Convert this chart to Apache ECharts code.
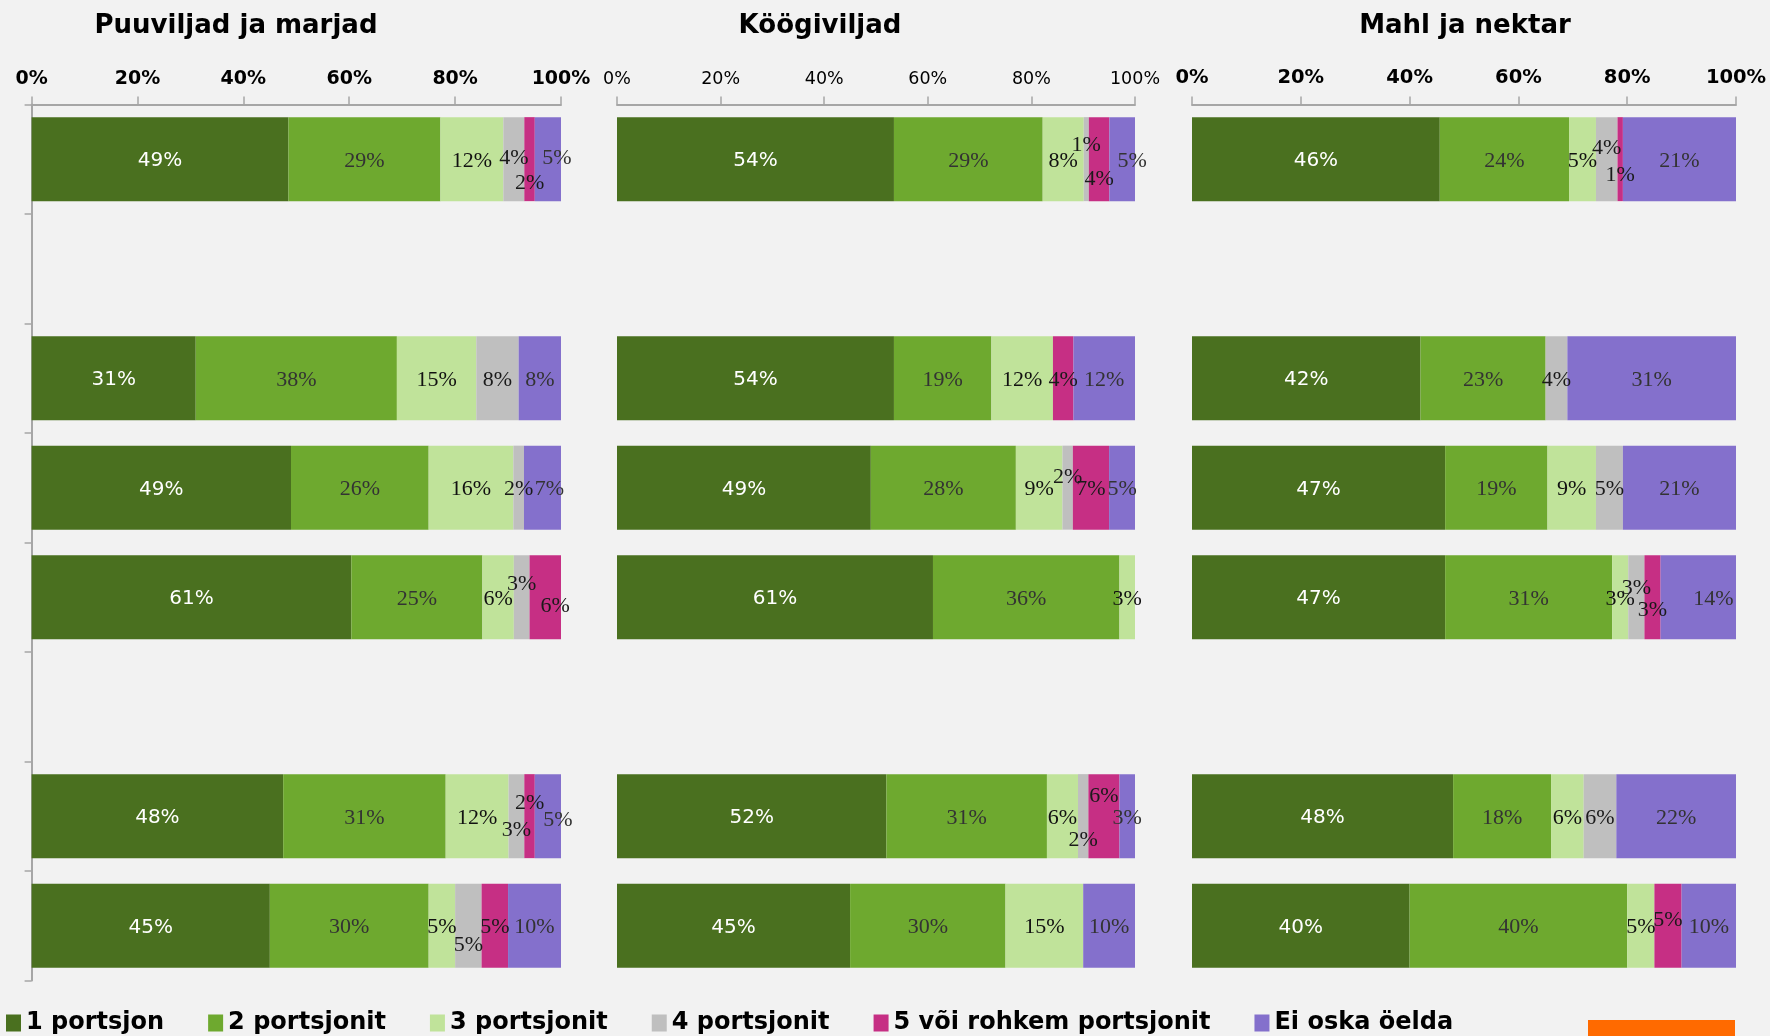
<!DOCTYPE html>
<html>
<head>
<meta charset="utf-8">
<script src="https://cdn.jsdelivr.net/npm/echarts@6/dist/echarts.min.js"></script>
<style>
  html, body { margin: 0; padding: 0; background: #F2F2F2; }
  #chart { width: 1770px; height: 1036px; }
</style>
</head>
<body>
<div id="chart"></div>
<script>
// ---- data ----
const categories = ['r1', 'r2', 'r3', 'r4', 'r5', 'r6', 'r7', 'r8'];
const seriesNames = ['1 portsjon', '2 portsjonit', '3 portsjonit', '4 portsjonit', '5 või rohkem portsjonit', 'Ei oska öelda'];
const panelTitles = ['Puuviljad ja marjad', 'Köögiviljad', 'Mahl ja nektar'];
const xTicks = [0, 20, 40, 60, 80, 100];

// one row per category slot (null = empty slot); values per series in order of seriesNames
const puuviljad = [[49, 29, 12, 4, 2, 5], null, [31, 38, 15, 8, 0, 8], [49, 26, 16, 2, 0, 7], [61, 25, 6, 3, 6, 0], null, [48, 31, 12, 3, 2, 5], [45, 30, 5, 5, 5, 10]];
const koogiviljad = [[54, 29, 8, 1, 4, 5], null, [54, 19, 12, 0, 4, 12], [49, 28, 9, 2, 7, 5], [61, 36, 3, 0, 0, 0], null, [52, 31, 6, 2, 6, 3], [45, 30, 15, 0, 0, 10]];
const mahl = [[46, 24, 5, 4, 1, 21], null, [42, 23, 0, 4, 0, 31], [47, 19, 9, 5, 0, 21], [47, 31, 3, 3, 3, 14], null, [48, 18, 6, 6, 0, 22], [40, 40, 5, 0, 5, 10]];

// ---- styling / layout (kept separate from data) ----
const panels = [puuviljad, koogiviljad, mahl];
const colors = ['#4A701F', '#6EA92F', '#C0E39A', '#BFBFBF', '#C62F84', '#8470CC'];
const labelColors = ['#FFFFFF', '#333333', '#111111', '#1a1a1a', '#1a1a1a', '#333333'];
const grids = [
  { left: 31.6, width: 529.4, top: 104.4, height: 876 },
  { left: 617, width: 518, top: 104.4, height: 876 },
  { left: 1192, width: 544, top: 104.4, height: 876 }
];
const titleX = [236, 820, 1465];
const axisLabelStyle = [
  { fontWeight: 'bold', fontSize: 19 },
  { fontWeight: 'normal', fontSize: 17.5 },
  { fontWeight: 'bold', fontSize: 19.5 }
];
// label nudges: "panel-row-series" -> [dx, dy]
const labelNudges = {
  '0-0-3': [0, -3], '0-0-4': [0, 22], '0-0-5': [9, -3],
  '0-3-5': [7, 0],
  '0-4-3': [0, -15], '0-4-4': [10, 7],
  '0-6-3': [0, 12], '0-6-4': [0, -15], '0-6-5': [10, 2],
  '0-7-3': [0, 18],
  '1-0-3': [0, -16], '1-0-4': [0, 18], '1-0-5': [10, 0],
  '1-3-3': [0, -12],
  '1-6-3': [0, 22], '1-6-4': [0, -22],
  '2-0-3': [0, -13], '2-0-4': [0, 14],
  '2-4-3': [0, -11], '2-4-4': [0, 11], '2-4-5': [15, 0],
  '2-7-4': [0, -7]
};
const baseLabelDy = 2;

const FONT = 'DejaVu Sans';
const chart = echarts.init(document.getElementById('chart'), null, { renderer: 'canvas' });

const xAxes = grids.map((g, i) => ({
  type: 'value', gridIndex: i, position: 'top',
  min: xTicks[0], max: xTicks[xTicks.length - 1], interval: xTicks[1] - xTicks[0],
  splitLine: { show: false },
  axisLine: { show: true, lineStyle: { color: '#A6A6A6', width: 2 } },
  axisTick: { show: true, length: 8, lineStyle: { color: '#A6A6A6', width: 1.5 } },
  axisLabel: {
    margin: 16, color: '#000', fontFamily: FONT,
    fontWeight: axisLabelStyle[i].fontWeight, fontSize: axisLabelStyle[i].fontSize,
    formatter: '{value}%'
  }
}));

const yAxes = grids.map((g, i) => ({
  type: 'category', gridIndex: i, inverse: true, data: categories,
  axisLabel: { show: false },
  axisLine: { show: i === 0, lineStyle: { color: '#A6A6A6', width: 2 } },
  axisTick: { show: i === 0, length: 7, lineStyle: { color: '#A6A6A6', width: 1.5 } },
  splitLine: { show: false }
}));

const series = [];
panels.forEach((rows, p) => {
  seriesNames.forEach((name, s) => {
    series.push({
      name: name, type: 'bar', stack: 'panel' + p,
      xAxisIndex: p, yAxisIndex: p,
      barWidth: 84,
      itemStyle: { color: colors[s] },
      emphasis: { disabled: true },
      label: {
        show: true, position: 'inside',
        color: labelColors[s],
        fontFamily: s === 0 ? FONT : '"Liberation Serif"',
        fontSize: s === 0 ? 20 : 22,
        offset: [0, baseLabelDy],
        formatter: (params) => {
          const row = rows[params.dataIndex];
          if (!row || row[s] === 0) return '';
          return row[s] + '%';
        }
      },
      data: rows.map((row, r) => {
        if (!row) return '-';
        const total = row.reduce((a, b) => a + b, 0);
        const item = { value: row[s] / total * 100 };
        const nudge = labelNudges[p + '-' + r + '-' + s];
        if (nudge) item.label = { offset: [nudge[0], nudge[1] + baseLabelDy] };
        return item;
      })
    });
  });
});

const option = {
  backgroundColor: '#F2F2F2',
  animation: false,
  textStyle: { fontFamily: FONT },
  grid: grids.map(g => Object.assign({ containLabel: false }, g)),
  xAxis: xAxes,
  yAxis: yAxes,
  legend: {
    data: seriesNames,
    left: 1, top: 1006,
    icon: 'rect', itemWidth: 15, itemHeight: 17, itemGap: 44,
    textStyle: { fontFamily: FONT, fontWeight: 'bold', fontSize: 24, color: '#000' }
  },
  graphic: panelTitles.map((t, i) => ({
    type: 'text', x: titleX[i], y: 26,
    style: {
      text: t, fill: '#000', font: 'bold 26px "DejaVu Sans"',
      textAlign: 'center', textVerticalAlign: 'middle'
    }
  })).concat([{
    type: 'rect', shape: { x: 1588, y: 1020, width: 147, height: 20 },
    style: { fill: '#FF6A00' }
  }]),
  series: series
};
chart.setOption(option);
</script>
</body>
</html>
